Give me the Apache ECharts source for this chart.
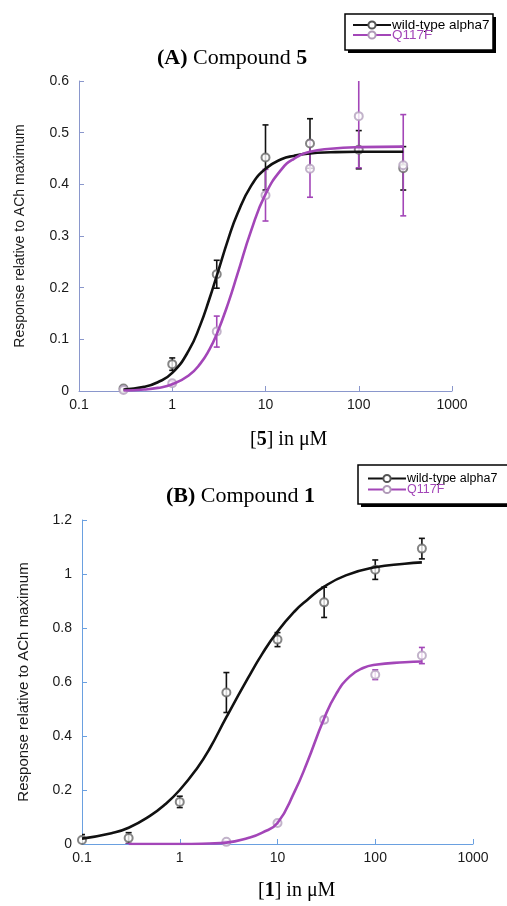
<!DOCTYPE html>
<html>
<head>
<meta charset="utf-8">
<script src="https://cdn.jsdelivr.net/npm/echarts@6/dist/echarts.min.js"></script>
<style>
html,body{margin:0;padding:0;background:#fff}
#main{width:507px;height:906px}
</style>
</head>
<body>
<div id="main"></div>
<script>
// panel A: compound 5
var concA = [0.3, 1, 3, 10, 30, 100, 300]
var wtA = [0.005, 0.052, 0.226, 0.452, 0.479, 0.467, 0.431]
var wtErrA = [0.004, 0.012, 0.027, 0.063, 0.048, 0.037, 0.042]
var mutA = [0.002, 0.015, 0.115, 0.379, 0.430, 0.532, 0.437]
var mutErrA = [0.003, 0.004, 0.030, 0.050, 0.055, 0.100, 0.098]
// fitted curves
var fitXA = [0.3, 0.5, 0.7, 1, 1.5, 2, 2.5, 3, 4, 5, 7, 10, 15, 20, 30, 50, 100, 300]
var wtFitA = [0.003, 0.008, 0.017, 0.035, 0.078, 0.128, 0.178, 0.223, 0.295, 0.343, 0.397, 0.430, 0.449, 0.455, 0.460, 0.462, 0.463, 0.463]
var mutFitA = [0.001, 0.003, 0.006, 0.013, 0.030, 0.053, 0.080, 0.110, 0.171, 0.226, 0.310, 0.381, 0.430, 0.449, 0.463, 0.469, 0.472, 0.473]

// panel B: compound 1
var wtConcB = [0.1, 0.3, 1, 3, 10, 30, 100, 300]
var wtB = [0.015, 0.022, 0.156, 0.561, 0.757, 0.895, 1.016, 1.094]
var wtErrB = [0.02, 0.02, 0.021, 0.074, 0.026, 0.056, 0.036, 0.038]
var mutConcB = [0.3, 1, 3, 10, 30, 100, 300]
var mutB = [-0.002, -0.002, 0.008, 0.078, 0.460, 0.627, 0.698]
var mutErrB = [0.002, 0.002, 0.003, 0.006, 0.010, 0.018, 0.030]
var wtFitXB = [0.1, 0.2, 0.3, 0.5, 0.7, 1, 1.5, 2, 3, 5, 7, 10, 15, 20, 30, 50, 100, 200, 300]
var wtFitB = [0.02, 0.04, 0.06, 0.105, 0.145, 0.2, 0.28, 0.35, 0.47, 0.615, 0.705, 0.787, 0.862, 0.903, 0.953, 0.995, 1.025, 1.038, 1.043]
var mutFitXB = [0.3, 1, 2, 3, 5, 7, 10, 15, 20, 30, 40, 55, 75, 100, 200, 300]
var mutFitB = [0, 0, 0.002, 0.005, 0.022, 0.042, 0.078, 0.195, 0.300, 0.465, 0.557, 0.621, 0.652, 0.664, 0.673, 0.676]

var black = '#111111'
var purple = '#a346b8'
var axisA = '#8a97cc'
var axisB = '#6aa0e0'
var sans = 'Liberation Sans'
var serif = 'Liberation Serif'

function pairs(xs, ys){
    var out = []
    for (var i = 0; i < xs.length; i++) out.push([xs[i], ys[i]])
    return out
}
function errs(xs, ys, es){
    var out = []
    for (var i = 0; i < xs.length; i++) out.push([xs[i], ys[i] - es[i], ys[i] + es[i]])
    return out
}
function errBar(color){
    return function(params, api){
        var x = api.value(0)
        var lo = api.coord([x, api.value(1)])
        var hi = api.coord([x, api.value(2)])
        var w = 3
        var st = {stroke: color, lineWidth: 1.6}
        return {type: 'group', children: [
            {type: 'line', shape: {x1: lo[0], y1: lo[1], x2: hi[0], y2: hi[1]}, style: st},
            {type: 'line', shape: {x1: lo[0]-w, y1: lo[1], x2: lo[0]+w, y2: lo[1]}, style: st},
            {type: 'line', shape: {x1: hi[0]-w, y1: hi[1], x2: hi[0]+w, y2: hi[1]}, style: st}
        ]}
    }
}

function xAxisOf(idx, col){
    return {
        type: 'log', logBase: 10, min: 0.1, max: 1000, gridIndex: idx,
        axisLine: {lineStyle: {color: col, width: 1}},
        axisTick: {inside: true, length: 5, lineStyle: {color: col}},
        axisLabel: {fontFamily: sans, fontSize: 14, color: '#1a1a1a', margin: 7,
            formatter: function(v){ return String(+v) }},
        splitLine: {show: false}
    }
}
function yAxisOf(idx, col, max, step, fs, gap){
    return {
        type: 'value', min: 0, max: max, interval: step, gridIndex: idx,
        name: 'Response relative to ACh maximum', nameLocation: 'middle', nameGap: gap,
        nameTextStyle: {fontFamily: sans, fontSize: fs, color: '#1a1a1a'},
        axisLine: {show: true, lineStyle: {color: col, width: 1}},
        axisTick: {show: true, inside: true, length: 5, lineStyle: {color: col}},
        axisLabel: {fontFamily: sans, fontSize: 14, color: '#1a1a1a', margin: 10},
        splitLine: {show: false}
    }
}
function legendOf(left, top, fs, gap){
    return {
        orient: 'vertical', left: left, top: top, itemGap: gap, itemWidth: 38, itemHeight: 9,
        padding: 0, z: 10,
        textStyle: {fontFamily: sans, fontSize: fs, padding: [0, 0, 0, -4]},
        data: [
            {name: 'wild-type alpha7', textStyle: {color: '#000'}},
            {name: 'Q117F', textStyle: {color: purple}}
        ]
    }
}
function legendBox(x, y, w, h){
    return [
        {type: 'rect', shape: {x: x + 3, y: y + 3, width: w, height: h}, style: {fill: '#000'}, z: 1},
        {type: 'rect', shape: {x: x, y: y, width: w, height: h}, style: {fill: '#fff', stroke: '#000', lineWidth: 1.5}, z: 2}
    ]
}
var rich = {b: {fontFamily: serif, fontWeight: 'bold', fontSize: 22, color: '#000'},
            n: {fontFamily: serif, fontWeight: 'normal', fontSize: 22, color: '#000'}}
var rich2 = {b: {fontFamily: serif, fontWeight: 'bold', fontSize: 20, color: '#000'},
             n: {fontFamily: serif, fontWeight: 'normal', fontSize: 20, color: '#000'}}

var chart = echarts.init(document.getElementById('main'))
chart.setOption({
    animation: false,
    title: [
        {text: '{b|(A)}{n| Compound }{b|5}', left: 157, top: 47, padding: 0, textStyle: {rich: rich}},
        {text: '{b|(B)}{n| Compound }{b|1}', left: 166, top: 485, padding: 0, textStyle: {rich: rich}},
        {text: '{n|[}{b|5}{n|] in μM}', left: 250, top: 430, padding: 0, textStyle: {rich: rich2}},
        {text: '{n|[}{b|1}{n|] in μM}', left: 258, top: 881, padding: 0, textStyle: {rich: rich2}}
    ],
    graphic: legendBox(345, 14, 148, 36).concat(legendBox(358, 465, 170, 39)),
    legend: [legendOf(352, 18, 13.5, -4), legendOf(367, 472, 12.5, -2)],
    grid: [
        {left: 79, right: 55, top: 81, bottom: 515},
        {left: 82, right: 34, top: 520, bottom: 62}
    ],
    xAxis: [xAxisOf(0, axisA), xAxisOf(1, axisB)],
    yAxis: [yAxisOf(0, axisA, 0.6, 0.1, 14, 52), yAxisOf(1, axisB, 1.2, 0.2, 15, 51)],
    series: [
        {name: 'wild-type alpha7', type: 'line', xAxisIndex: 0, yAxisIndex: 0, smooth: true,
         showSymbol: false, symbol: 'emptyCircle', data: pairs(fitXA, wtFitA), z: 5,
         lineStyle: {color: black, width: 2.6}, itemStyle: {color: '#555'}},
        {name: 'Q117F', type: 'line', xAxisIndex: 0, yAxisIndex: 0, smooth: true,
         showSymbol: false, symbol: 'emptyCircle', data: pairs(fitXA, mutFitA), z: 5,
         lineStyle: {color: purple, width: 2.6}, itemStyle: {color: '#b09ab8'}},
        {name: 'wild-type alpha7', type: 'line', xAxisIndex: 1, yAxisIndex: 1, smooth: true,
         showSymbol: false, data: pairs(wtFitXB, wtFitB), z: 5,
         lineStyle: {color: black, width: 2.6}, itemStyle: {color: '#555'}},
        {name: 'Q117F', type: 'line', xAxisIndex: 1, yAxisIndex: 1, smooth: true,
         showSymbol: false, data: pairs(mutFitXB, mutFitB), z: 5,
         lineStyle: {color: purple, width: 2.6}, itemStyle: {color: '#b09ab8'}},

        {type: 'custom', xAxisIndex: 0, yAxisIndex: 0, clip: true, renderItem: errBar(black),
         data: errs(concA, wtA, wtErrA), encode: {x: 0, y: [1, 2]}, z: 3},
        {type: 'custom', xAxisIndex: 0, yAxisIndex: 0, clip: true, renderItem: errBar(purple),
         data: errs(concA, mutA, mutErrA), encode: {x: 0, y: [1, 2]}, z: 3},
        {type: 'custom', xAxisIndex: 1, yAxisIndex: 1, clip: true, renderItem: errBar(black),
         data: errs(wtConcB, wtB, wtErrB), encode: {x: 0, y: [1, 2]}, z: 3},
        {type: 'custom', xAxisIndex: 1, yAxisIndex: 1, clip: true, renderItem: errBar(purple),
         data: errs(mutConcB, mutB, mutErrB), encode: {x: 0, y: [1, 2]}, z: 3},

        {type: 'scatter', xAxisIndex: 0, yAxisIndex: 0, symbol: 'emptyCircle', symbolSize: 8,
         data: pairs(concA, wtA), itemStyle: {color: '#666', borderWidth: 1.1}, z: 4},
        {type: 'scatter', xAxisIndex: 0, yAxisIndex: 0, symbol: 'emptyCircle', symbolSize: 8,
         data: pairs(concA, mutA), itemStyle: {color: '#b3a0bd', borderWidth: 1.1}, z: 4},
        {type: 'scatter', xAxisIndex: 1, yAxisIndex: 1, symbol: 'emptyCircle', symbolSize: 8,
         data: pairs(wtConcB, wtB), itemStyle: {color: '#666', borderWidth: 1.1}, z: 4},
        {type: 'scatter', xAxisIndex: 1, yAxisIndex: 1, symbol: 'emptyCircle', symbolSize: 8,
         data: pairs(mutConcB, mutB), itemStyle: {color: '#b3a0bd', borderWidth: 1.1}, z: 4}
    ]
})
</script>
</body>
</html>
